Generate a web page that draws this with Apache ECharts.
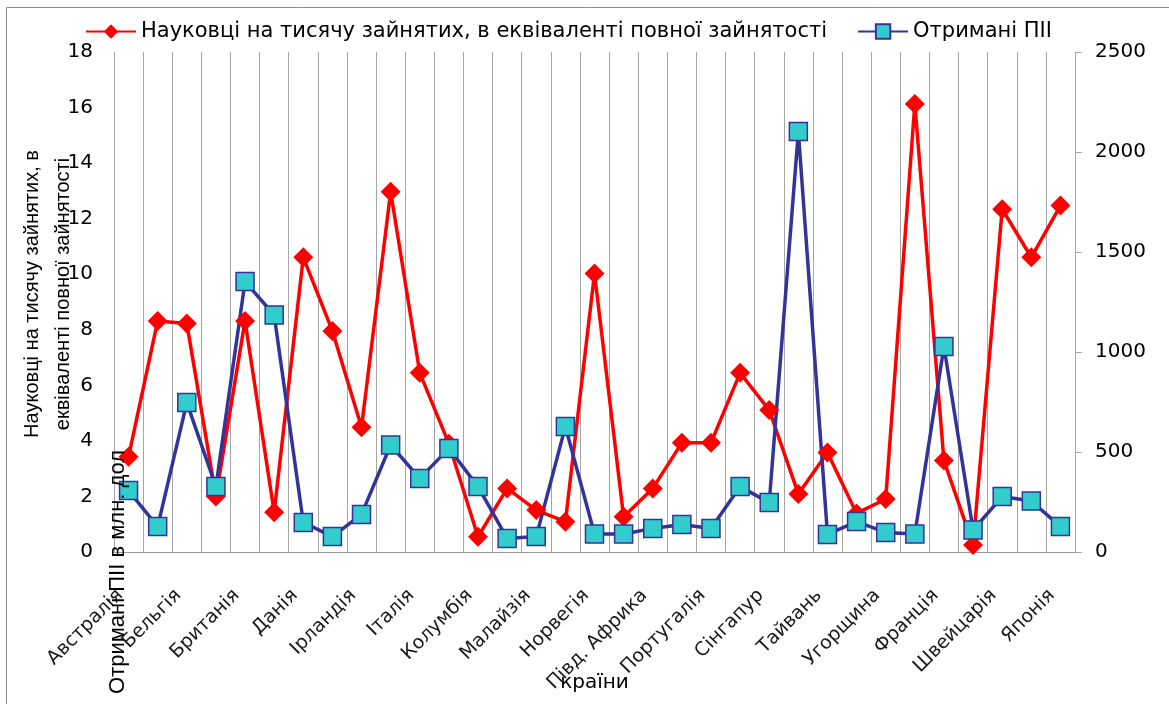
<!DOCTYPE html>
<html>
<head>
<meta charset="utf-8">
<script src="https://cdn.jsdelivr.net/npm/echarts@6/dist/echarts.min.js"></script>
<style>
    html, body {margin: 0; padding: 0; background: #fff;}
    #myChart {width: 1169px; height: 704px;}
</style>
</head>
<body>
<div id="myChart"></div>
<script>
//країни
var countries = ['Австралія', 'Австрія', 'Бельгія', 'Болгарія', 'Британія', 'Греція', 'Данія', 'Естонія',
    'Ірландія', 'Ісландія', 'Італія', 'Казахстан', 'Колумбія', 'Латвія', 'Малайзія', 'Мексика',
    'Норвегія', 'Перу', 'Півд. Африка', 'Польща', 'Португалія', 'Росія', 'Сінгапур', 'Словаччина',
    'Тайвань', 'Туреччина', 'Угорщина', 'Фінляндія', 'Франція', 'Чилі', 'Швейцарія', 'Швеція', 'Японія'];

//Науковці на тисячу зайнятих
var scientists = [3.43, 8.32, 8.23, 2.0, 8.32, 1.43, 10.61, 7.96, 4.49, 12.97, 6.45, 3.9, 0.55, 2.29, 1.51, 1.09,
    10.03, 1.27, 2.29, 3.93, 3.93, 6.45, 5.11, 2.09, 3.58, 1.39, 1.91, 16.13, 3.29, 0.25, 12.34, 10.61, 12.47];

//Отримані ПІІ, млн. дол
var fdi = [307, 127, 747, 327, 1352, 1185, 148, 77, 188, 535, 368, 518, 327, 68, 77, 627,
    90, 90, 118, 138, 118, 327, 247, 2102, 88, 152, 98, 90, 1027, 110, 277, 255, 127];

var leftTicks = [0, 18, 2];
var rightTicks = [0, 2500, 500];

var font = '"Liberation Sans", Arial, sans-serif';
var wideFont = '"DejaVu Sans", sans-serif';

var option = {
    animation: false,
    textStyle: {fontFamily: wideFont, color: '#000'},
    grid: {left: 114, right: 94, top: 52, bottom: 152, outerBoundsMode: 'none', containLabel: false},
    legend: {
        top: 16,
        left: 80,
        itemWidth: 50,
        itemHeight: 18,
        itemGap: 30,
        textStyle: {fontSize: 21, color: '#000', fontFamily: wideFont},
        data: ['Науковці на тисячу зайнятих, в еквіваленті повної зайнятості', 'Отримані ПІІ']
    },
    xAxis: {
        type: 'category',
        data: countries,
        boundaryGap: true,
        name: 'країни',
        nameLocation: 'middle',
        nameGap: 121,
        nameMoveOverlap: false,
        nameTextStyle: {fontSize: 20, color: '#000', fontFamily: wideFont},
        axisLine: {lineStyle: {color: '#999'}},
        axisTick: {show: false},
        axisLabel: {
            interval: 1,
            rotate: 45,
            margin: 32,
            padding: [0, 12, 0, 0],
            fontSize: 19,
            fontFamily: wideFont,
            color: '#1a1a1a'
        },
        splitLine: {//вертикальна сітка
            show: true,
            interval: 0,
            lineStyle: {color: '#a6a6a6', width: 1}
        }
    },
    yAxis: [{
        type: 'value',
        min: leftTicks[0],
        max: leftTicks[1],
        interval: leftTicks[2],
        name: 'Науковці на тисячу зайнятих, в\nеквіваленті повної зайнятості',
        nameLocation: 'middle',
        nameRotate: 90,
        nameGap: 35,
        nameMoveOverlap: false,
        nameTextStyle: {fontSize: 20, color: '#000', lineHeight: 31, fontFamily: font, padding: [0, 0, 0, 16]},
        axisLine: {show: true, lineStyle: {color: '#a6a6a6'}},
        axisTick: {show: false},
        axisLabel: {fontSize: 20, color: '#000', margin: 21, fontFamily: wideFont},
        splitLine: {show: false}
    }, {
        type: 'value',
        min: rightTicks[0],
        max: rightTicks[1],
        interval: rightTicks[2],
        position: 'right',
        axisLine: {show: true, lineStyle: {color: '#a6a6a6'}},
        axisTick: {show: true, length: 7, lineStyle: {color: '#a6a6a6'}},
        axisLabel: {
            fontSize: 20,
            color: '#000',
            margin: 20,
            fontFamily: wideFont,
            formatter: function (value) {
                return String(value);
            }
        },
        splitLine: {show: false}
    }],
    graphic: [{
        type: 'rect',
        shape: {x: 6.5, y: 7.5, width: 1200, height: 800},
        style: {fill: 'none', stroke: '#8c8c8c', lineWidth: 1},
        silent: true
    }, {
        type: 'text',
        x: 118,
        y: 572,
        rotation: Math.PI / 2,
        style: {
            text: 'Отримані ПІІ в млн. дол',
            fontSize: 22,
            fontFamily: font,
            fill: '#000',
            align: 'center',
            verticalAlign: 'middle'
        },
        z: 100
    }],
    series: [{
        name: 'Науковці на тисячу зайнятих, в еквіваленті повної зайнятості',
        type: 'line',
        yAxisIndex: 0,
        data: scientists,
        showAllSymbol: true,
        symbol: 'diamond',
        symbolSize: 20,
        lineStyle: {color: '#ff0000', width: 3.5},
        itemStyle: {color: '#ff0000'}
    }, {
        name: 'Отримані ПІІ',
        type: 'line',
        yAxisIndex: 1,
        data: fdi,
        showAllSymbol: true,
        symbol: 'rect',
        symbolSize: 18,
        lineStyle: {color: '#333399', width: 3.5},
        itemStyle: {color: '#33cccc', borderColor: '#333399', borderWidth: 1.5}
    }]
};

var myChart = echarts.init(document.getElementById('myChart'));
myChart.setOption(option);
</script>
</body>
</html>
